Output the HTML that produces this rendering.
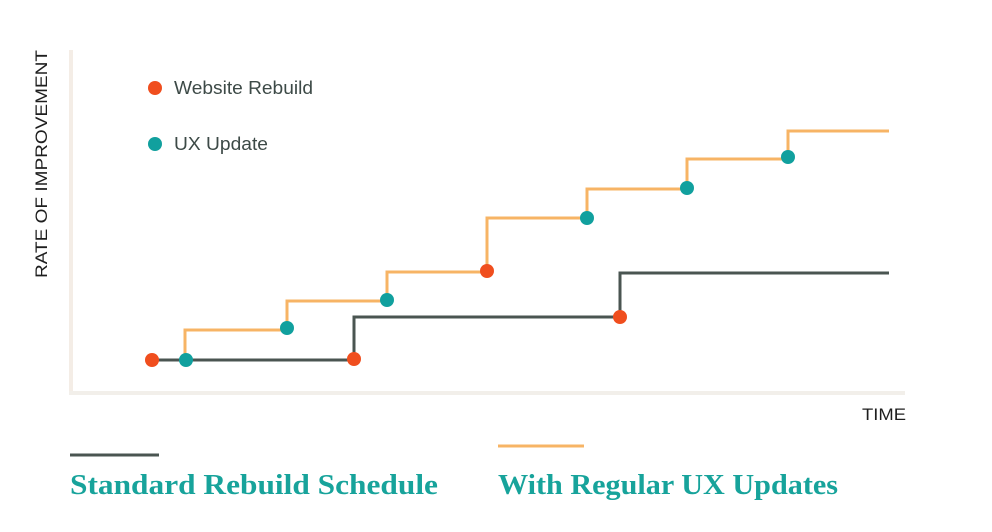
<!DOCTYPE html>
<html><head><meta charset="utf-8"><style>
html,body{margin:0;padding:0;background:#fff;}
svg{display:block;}
</style></head><body>
<svg width="992" height="532" viewBox="0 0 992 532" xmlns="http://www.w3.org/2000/svg">
<rect width="992" height="532" fill="#fff"/>
<line x1="71" y1="50" x2="71" y2="393" stroke="#f4ede6" stroke-width="4"/>
<line x1="69" y1="393" x2="905" y2="393" stroke="#f2efea" stroke-width="4"/>
<polyline points="185,360 185,330 287,330 287,301 387,301 387,272 487,272 487,218 587,218 587,189 687,189 687,159 788,159 788,131 889,131" fill="none" stroke="#f7b465" stroke-width="3"/>
<polyline points="152,360 354,360 354,317 620,317 620,273 889,273" fill="none" stroke="#4a5551" stroke-width="3"/>
<g fill="#f04e1e">
<circle cx="152" cy="360" r="7"/><circle cx="354" cy="359" r="7"/><circle cx="487" cy="271" r="7"/><circle cx="620" cy="317" r="7"/>
<circle cx="155" cy="88" r="7"/>
</g>
<g fill="#11a09e">
<circle cx="186" cy="360" r="7"/><circle cx="287" cy="328" r="7"/><circle cx="387" cy="300" r="7"/><circle cx="587" cy="218" r="7"/><circle cx="687" cy="188" r="7"/><circle cx="788" cy="157" r="7"/>
<circle cx="155" cy="144" r="7"/>
</g>
<g font-family="Liberation Sans, sans-serif" font-size="18" fill="#3d4a47">
<text x="174" y="94" textLength="139" lengthAdjust="spacingAndGlyphs">Website Rebuild</text>
<text x="174" y="150" textLength="94" lengthAdjust="spacingAndGlyphs">UX Update</text>
</g>
<text transform="translate(47,278) rotate(-90)" font-family="Liberation Sans, sans-serif" font-size="17" fill="#1e1e1e" textLength="228" lengthAdjust="spacingAndGlyphs">RATE OF IMPROVEMENT</text>
<text x="862" y="420" font-family="Liberation Sans, sans-serif" font-size="17" fill="#1e1e1e" textLength="44" lengthAdjust="spacingAndGlyphs">TIME</text>
<line x1="70" y1="455" x2="159" y2="455" stroke="#4a5551" stroke-width="3"/>
<line x1="498" y1="446" x2="584" y2="446" stroke="#f7b465" stroke-width="3"/>
<g font-family="Liberation Serif, serif" font-weight="bold" font-size="28" fill="#17a39b">
<text x="70" y="494" textLength="368" lengthAdjust="spacingAndGlyphs">Standard Rebuild Schedule</text>
<text x="498" y="494" textLength="340" lengthAdjust="spacingAndGlyphs">With Regular UX Updates</text>
</g>
</svg>
</body></html>
